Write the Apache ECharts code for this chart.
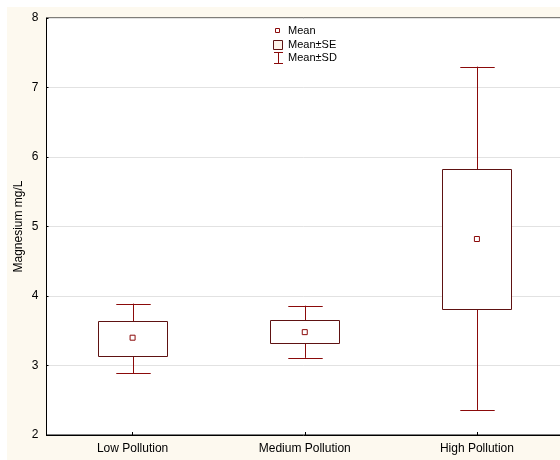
<!DOCTYPE html>
<html>
<head>
<meta charset="utf-8">
<script src="https://cdn.jsdelivr.net/npm/echarts@6/dist/echarts.min.js"></script>
<style>
html,body{margin:0;padding:0;background:#ffffff;width:560px;height:460px;overflow:hidden;}
#chart{position:absolute;left:7px;top:7px;width:553px;height:453px;background:#fdf9ef;}
</style>
</head>
<body>
<div id="chart"></div>
<script>
var categories = ['Low Pollution', 'Medium Pollution', 'High Pollution'];
var means = [3.40, 3.48, 4.82];
var seLow = [3.14, 3.32, 3.82];
var seHigh = [3.64, 3.65, 5.83];
var sdLow = [2.89, 3.11, 2.36];
var sdHigh = [3.89, 3.86, 7.30];
var yTicks = [2, 3, 4, 5, 6, 7, 8];

var chart = echarts.init(document.getElementById('chart'), null, {renderer: 'canvas'});
var FONT = 'Liberation Sans, Arial, sans-serif';

var sdData = categories.map(function (c, i) { return [i, sdLow[i], sdHigh[i]]; });
var seData = categories.map(function (c, i) { return [i, seLow[i], seHigh[i]]; });
var meanData = categories.map(function (c, i) { return [i, means[i]]; });

function renderSD(params, api) {
  var x = api.value(0);
  var lo = api.coord([x, api.value(1)]);
  var hi = api.coord([x, api.value(2)]);
  var bw = api.size([1, 0])[0];
  var half = bw * 0.1;
  var st = {stroke: '#8b0a0a', lineWidth: 1};
  var cx = Math.round(lo[0]) + 0.5;
  return {
    type: 'group',
    children: [
      {type: 'line', shape: {x1: cx, y1: lo[1], x2: cx, y2: hi[1]}, style: st},
      {type: 'line', shape: {x1: cx - half, y1: Math.round(lo[1]) + 0.5, x2: cx + half, y2: Math.round(lo[1]) + 0.5}, style: st},
      {type: 'line', shape: {x1: cx - half, y1: Math.round(hi[1]) + 0.5, x2: cx + half, y2: Math.round(hi[1]) + 0.5}, style: st}
    ]
  };
}

function renderSE(params, api) {
  var x = api.value(0);
  var lo = api.coord([x, api.value(1)]);
  var hi = api.coord([x, api.value(2)]);
  var bw = api.size([1, 0])[0];
  var half = bw * 0.2;
  var x0 = Math.round(lo[0] - half) + 0.5;
  var x1 = Math.round(lo[0] + half) + 0.5;
  var y0 = Math.round(hi[1]) + 0.5;
  var y1 = Math.round(lo[1]) + 0.5;
  return {
    type: 'rect',
    shape: {x: x0, y: y0, width: x1 - x0, height: y1 - y0},
    style: {fill: '#ffffff', stroke: '#5e1212', lineWidth: 1}
  };
}

var LS = {stroke: '#8b0a0a', lineWidth: 1};
var option = {
  animation: false,
  textStyle: {fontFamily: FONT},
  grid: {
    left: 39.5, top: 11, width: 516.5, bottom: 25,
    show: true, backgroundColor: '#ffffff', borderColor: '#000000', borderWidth: 1,
    containLabel: false,
    outerBoundsMode: 'none'
  },
  xAxis: {
    type: 'category',
    data: categories,
    boundaryGap: true,
    axisLine: {show: true, lineStyle: {color: '#000000', width: 1}},
    axisTick: {show: true, inside: true, length: 3, alignWithLabel: true, lineStyle: {color: '#000000'}},
    axisLabel: {color: '#000000', fontSize: 12, fontFamily: FONT, margin: 8},
    splitLine: {show: false}
  },
  yAxis: {
    type: 'value',
    min: yTicks[0],
    max: yTicks[yTicks.length - 1],
    interval: 1,
    name: 'Magnesium mg/L',
    nameLocation: 'middle',
    nameGap: 22,
    nameRotate: 90,
    nameMoveOverlap: false,
    nameTextStyle: {color: '#000000', fontSize: 12, fontFamily: FONT},
    axisLine: {show: true, lineStyle: {color: '#000000', width: 1}},
    axisTick: {show: true, inside: true, length: 2, lineStyle: {color: '#000000'}},
    axisLabel: {color: '#000000', fontSize: 12, fontFamily: FONT, margin: 8},
    splitLine: {show: true, lineStyle: {color: '#e2e2e2', width: 1}}
  },
  graphic: [
    {type: 'rect', shape: {x: 268.5, y: 21.5, width: 4, height: 4}, style: {fill: '#ffffff', stroke: '#8b0a0a', lineWidth: 1}, z: 10},
    {type: 'text', style: {x: 281, y: 24, text: 'Mean', fill: '#000000', font: '11px ' + FONT, verticalAlign: 'middle'}, z: 10},
    {type: 'rect', shape: {x: 266.5, y: 33.5, width: 9, height: 9}, style: {fill: '#fdf3ea', stroke: '#5e1212', lineWidth: 1}, z: 10},
    {type: 'text', style: {x: 281, y: 37.5, text: 'Mean\u00b1SE', fill: '#000000', font: '11px ' + FONT, verticalAlign: 'middle'}, z: 10},
    {type: 'line', shape: {x1: 267, y1: 45.5, x2: 276, y2: 45.5}, style: LS, z: 10},
    {type: 'line', shape: {x1: 271.5, y1: 45.5, x2: 271.5, y2: 56.5}, style: LS, z: 10},
    {type: 'line', shape: {x1: 267, y1: 56.5, x2: 276, y2: 56.5}, style: LS, z: 10},
    {type: 'text', style: {x: 281, y: 50.5, text: 'Mean\u00b1SD', fill: '#000000', font: '11px ' + FONT, verticalAlign: 'middle'}, z: 10}
  ],
  series: [
    {name: 'Mean\u00b1SD', type: 'custom', renderItem: renderSD, data: sdData, z: 2,
     encode: {x: 0, y: [1, 2]}},
    {name: 'Mean\u00b1SE', type: 'custom', renderItem: renderSE, data: seData, z: 3,
     encode: {x: 0, y: [1, 2]}},
    {name: 'Mean', type: 'scatter', data: meanData, symbol: 'rect', symbolSize: 5, z: 4,
     itemStyle: {color: '#ffffff', borderColor: '#8b0a0a', borderWidth: 1, opacity: 1}}
  ]
};
chart.setOption(option);
</script>
</body>
</html>
